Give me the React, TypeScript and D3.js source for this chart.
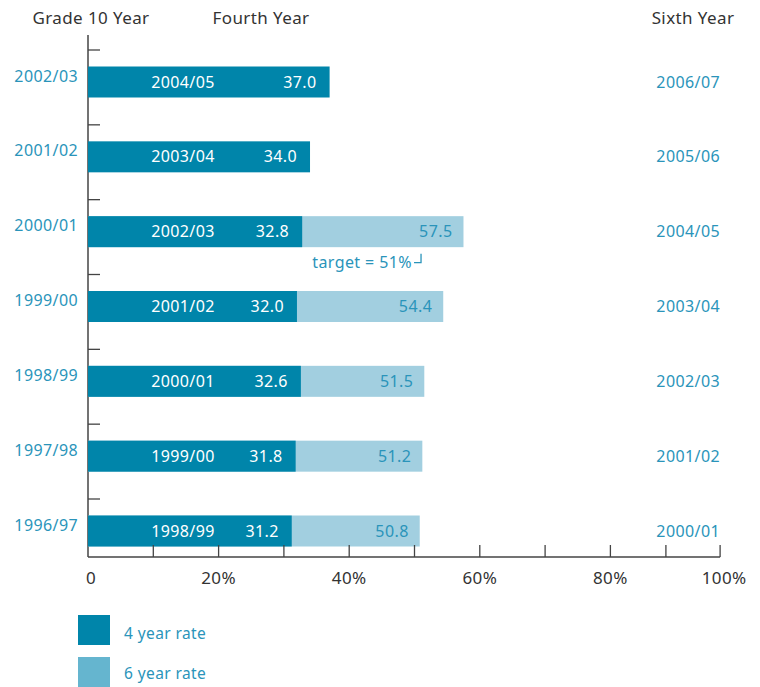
import React from 'react';
import * as d3 from 'd3';

const grade10Years = ['2002/03', '2001/02', '2000/01', '1999/00', '1998/99', '1997/98', '1996/97'];
const fourthYears = ['2004/05', '2003/04', '2002/03', '2001/02', '2000/01', '1999/00', '1998/99'];
const sixthYears = ['2006/07', '2005/06', '2004/05', '2003/04', '2002/03', '2001/02', '2000/01'];
const rate4 = [37.0, 34.0, 32.8, 32.0, 32.6, 31.8, 31.2];
const rate6: (number | null)[] = [null, null, 57.5, 54.4, 51.5, 51.2, 50.8];
const axisTickValues = [10, 20, 30, 40, 50, 60, 70, 80, 88.5, 96.8];
const axisLabels = [
  { v: 0, t: '0' },
  { v: 20, t: '20%' },
  { v: 40, t: '40%' },
  { v: 60, t: '60%' },
  { v: 80, t: '80%' },
  { v: 96.8, t: '100%' },
];
const targetValue = 51;
const legendItems = ['4 year rate', '6 year rate'];

const DARK = '#0085aa';
const LIGHT = '#a2cfe0';
const LEGEND_LIGHT = '#65b5cf';
const BLUE_TEXT = '#2a94ba';
const FONT = '"Noto Sans", "Open Sans", sans-serif';
const LS = 0.4;

export default function App() {
  const W = 760, H = 687;
  const x = d3.scaleLinear().domain([0, 100]).range([88, 741]);
  const y = d3.scalePoint<number>().domain(d3.range(grade10Years.length)).range([82, 531]);
  const barH = 31;
  const axisY = 557;

  return (
    <svg width={W} height={H} style={{ position: 'absolute', left: 0, top: 0, fontFamily: FONT }}>
      {/* headers */}
      <text x={91} y={24} textAnchor="middle" fontSize={17} letterSpacing={LS} fill="#333">Grade 10 Year</text>
      <text x={261} y={24} textAnchor="middle" fontSize={17} letterSpacing={LS} fill="#333">Fourth Year</text>
      <text x={693} y={24} textAnchor="middle" fontSize={17} letterSpacing={LS} fill="#333">Sixth Year</text>

      {/* left axis */}
      <line x1={88} x2={88} y1={35} y2={axisY} stroke="#444" strokeWidth={1.5} />
      {grade10Years.map((_, i) => (
        <line key={'lt' + i} x1={88} x2={100} y1={(y(i) as number) - 32} y2={(y(i) as number) - 32} stroke="#444" strokeWidth={1.3} />
      ))}

      {/* bars */}
      {grade10Years.map((g, i) => {
        const cy = y(i) as number;
        const r6 = rate6[i];
        return (
          <g key={'b' + i} fontSize={16} letterSpacing={LS}>
            {r6 != null && (
              <rect x={x(0)} y={cy - barH / 2} width={x(r6) - x(0)} height={barH} fill={LIGHT} />
            )}
            <rect x={x(0)} y={cy - barH / 2} width={x(rate4[i]) - x(0)} height={barH} fill={DARK} />
            <text x={x(0) + 95} y={cy} dy="0.35em" textAnchor="middle" fill="#fff">{fourthYears[i]}</text>
            <text x={x(rate4[i]) - 13} y={cy} dy="0.35em" textAnchor="end" fill="#fff">{rate4[i].toFixed(1)}</text>
            {r6 != null && (
              <text x={x(r6) - 11} y={cy} dy="0.35em" textAnchor="end" fill={BLUE_TEXT}>{r6.toFixed(1)}</text>
            )}
            <text x={78} y={cy - 6} dy="0.35em" textAnchor="end" fill={BLUE_TEXT}>{g}</text>
            <text x={720} y={cy} dy="0.35em" textAnchor="end" fill={BLUE_TEXT}>{sixthYears[i]}</text>
          </g>
        );
      })}

      {/* target annotation */}
      {(() => {
        const tx = x(targetValue);
        const ty = (y(2) as number) + 31;
        return (
          <g>
            <text x={tx - 9} y={ty + 5} textAnchor="end" fontSize={16} letterSpacing={LS} fill={BLUE_TEXT}>target = 51%</text>
            <path d={`M${tx},${ty - 9} V${ty} H${tx - 7}`} fill="none" stroke={BLUE_TEXT} strokeWidth={1.3} />
          </g>
        );
      })()}

      {/* bottom axis */}
      <line x1={88} x2={x(96.8)} y1={axisY} y2={axisY} stroke="#444" strokeWidth={1.5} />
      {axisTickValues.map((v) => (
        <line key={'bt' + v} x1={x(v)} x2={x(v)} y1={axisY} y2={axisY - 12} stroke="#444" strokeWidth={1.3} />
      ))}
      {axisLabels.map((d) => (
        <text key={'bl' + d.t} x={d.v === 0 ? x(0) + 3 : d.v === 96.8 ? x(d.v) + 4 : x(d.v)} y={584} textAnchor="middle" fontSize={17} letterSpacing={LS} fill="#333">{d.t}</text>
      ))}

      {/* legend */}
      {legendItems.map((t, i) => (
        <g key={'lg' + i}>
          <rect x={78} y={615 + i * 42} width={32} height={30} fill={i === 0 ? DARK : LEGEND_LIGHT} />
          <text x={124} y={634 + i * 40} dy="0.35em" fontSize={15.5} letterSpacing={LS} fill={BLUE_TEXT}>{t}</text>
        </g>
      ))}
    </svg>
  );
}
